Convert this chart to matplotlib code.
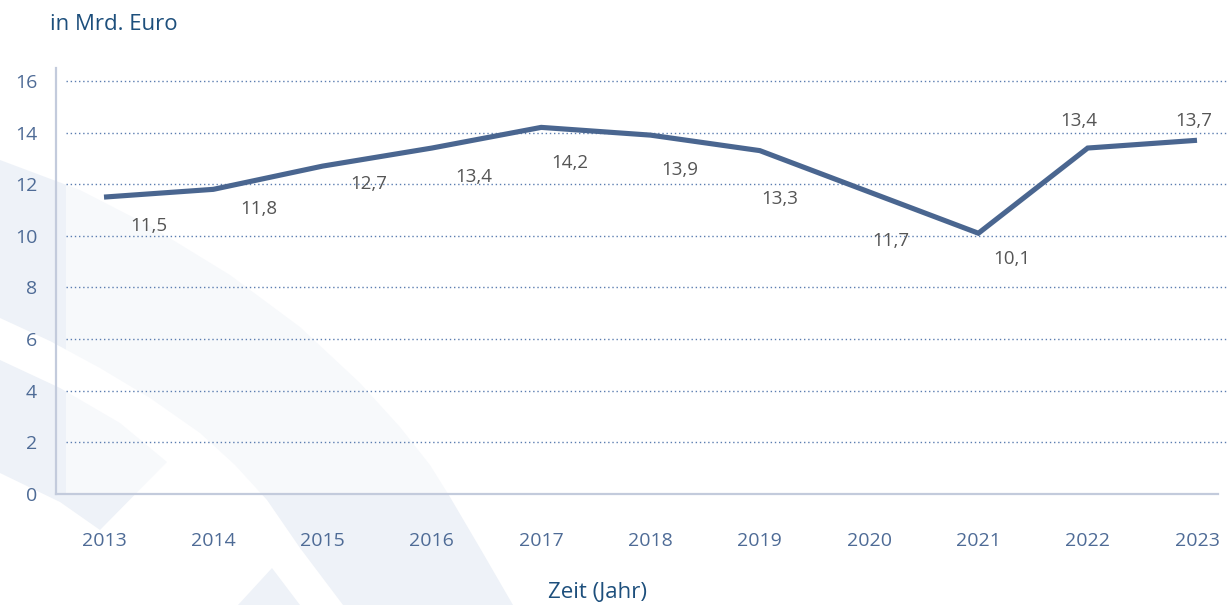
import matplotlib
matplotlib.use("Agg")
import matplotlib.pyplot as plt
import matplotlib.transforms as mtransforms
from matplotlib.patches import Polygon, Rectangle
import numpy as np

plt.rcParams['font.family'] = ['Open Sans', 'DejaVu Sans']

# ---------------- data ----------------
years = ["2013", "2014", "2015", "2016", "2017", "2018", "2019", "2020", "2021", "2022", "2023"]
values = [11.5, 11.8, 12.7, 13.4, 14.2, 13.9, 13.3, 11.7, 10.1, 13.4, 13.7]
value_labels = ["11,5", "11,8", "12,7", "13,4", "14,2", "13,9", "13,3", "11,7", "10,1", "13,4", "13,7"]
y_ticks = [0, 2, 4, 6, 8, 10, 12, 14, 16]

# label offsets in pixels (dx right, dy up) relative to each point
label_dx = [45, 46, 46, 42, 29, 29, 20, 22, 33, -9, -3]
label_dy = [-29, -20, -18, -29, -36, -35, -48, -49, -26, 27, 19]

W, H = 1227, 605
fig = plt.figure(figsize=(W / 100, H / 100), dpi=100)
fig.patch.set_facecolor('white')

# pixel transform (y down) for decorative watermark
pix = mtransforms.Affine2D().scale(1 / W, -1 / H).translate(0, 1) + fig.transFigure
wm = '#eef2f8'
bandA = [(0, 160), (80, 190), (150, 226), (230, 275), (300, 327), (360, 383), (400, 427), (430, 465),
         (450, 497), (480, 548), (513, 605), (343, 605), (300, 548), (267, 500), (235, 465),
         (200, 433), (150, 398), (100, 368), (50, 341), (0, 318)]
bandB = [(0, 360), (60, 388), (120, 423), (167, 462), (100, 530), (60, 502), (0, 473)]
tri = [(272, 568), (238, 605), (300, 605)]
for pts in (bandA, bandB, tri):
    fig.patches.append(Polygon(pts, closed=True, facecolor=wm, edgecolor='none',
                               transform=pix, zorder=-5))

# ---------------- axes ----------------
ax_l, ax_r, ax_t, ax_b = 56, 1227, 68, 494
ax = fig.add_axes([ax_l / W, (H - ax_b) / H, (ax_r - ax_l) / W, (ax_b - ax_t) / H])
ax.set_facecolor('none')

x0_px, step_px = 104, 109.3
xl0 = (ax_l - x0_px) / step_px
xl1 = (ax_r - x0_px) / step_px
ax.set_xlim(xl0, xl1)
ax.set_ylim(0, 16.5)

# light overlay inside plot
ax.add_patch(Rectangle((10 / (ax_r - ax_l), 0), 1 - 10 / (ax_r - ax_l), 1, transform=ax.transAxes,
                       facecolor='white', alpha=0.55, edgecolor='none', zorder=0))

# dotted gridlines
ax.hlines(y_ticks[1:], 10 / (ax_r - ax_l), 1, transform=ax.get_yaxis_transform(),
          colors='#5b7db0', linestyles=(0, (1, 2)), linewidth=1.0, zorder=1)

x = np.arange(len(years))
ax.plot(x, values, color='#4a6690', linewidth=3.7, solid_capstyle='butt',
        solid_joinstyle='miter', zorder=3)

for xi, v, lab, dx, dy in zip(x, values, value_labels, label_dx, label_dy):
    ax.annotate(lab, (xi, v), xytext=(dx, dy), textcoords='offset pixels',
                ha='center', va='center', fontsize=13.5, color='#555555', zorder=4)

for s in ('top', 'right'):
    ax.spines[s].set_visible(False)
for s in ('left', 'bottom'):
    ax.spines[s].set_color('#c3cbdc')
    ax.spines[s].set_linewidth(1.6)
ax.spines['bottom'].set_bounds(xl0, (1218 - x0_px) / step_px)

ax.set_xticks(x)
ax.set_xticklabels(years)
ax.set_yticks(y_ticks)
ax.set_yticklabels([str(t) for t in y_ticks])
ax.tick_params(axis='both', length=0, labelsize=14, labelcolor='#4e6b96')
ax.tick_params(axis='y', pad=13.5)
ax.tick_params(axis='x', pad=27)

fig.text(50 / W, 1 - 24 / H, "in Mrd. Euro", ha='left', va='center', fontsize=16, color='#1d4f7c')
fig.text(598 / W, 1 - 592 / H, "Zeit (Jahr)", ha='center', va='center', fontsize=16, color='#1d4f7c')

fig.savefig("out.png", dpi=100)
